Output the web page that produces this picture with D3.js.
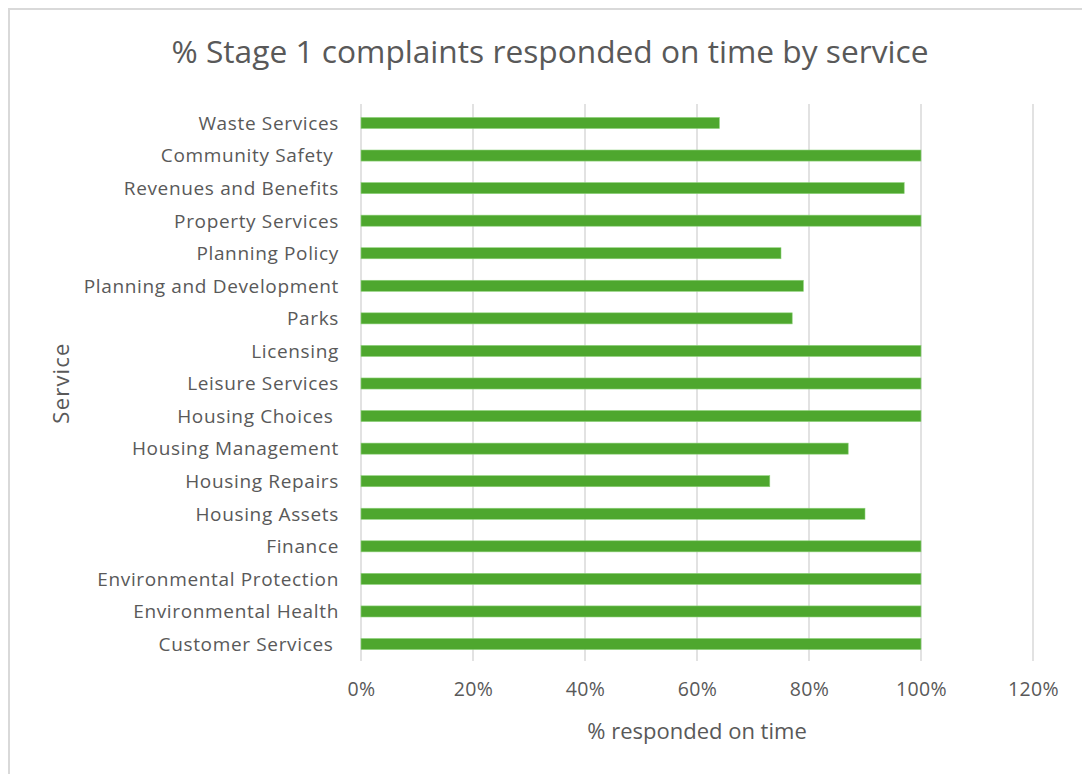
<!DOCTYPE html>
<html>
<head>
<meta charset="utf-8">
<script src="https://cdn.jsdelivr.net/npm/d3@7"></script>
<style>
  body { margin: 0; background: #fff; }
  text { font-family: "Open Sans", Lato, sans-serif; fill: #595959; }
  .cat text { white-space: pre; }
</style>
</head>
<body>
<div id="chart"></div>
<script>
// services, top to bottom as shown
var services = ["Waste Services", "Community Safety ", "Revenues and Benefits", "Property Services",
    "Planning Policy", "Planning and Development", "Parks", "Licensing", "Leisure Services",
    "Housing Choices ", "Housing Management", "Housing Repairs", "Housing Assets", "Finance",
    "Environmental Protection", "Environmental Health", "Customer Services "];
var onTime = [0.64, 1.00, 0.97, 1.00, 0.75, 0.79, 0.77, 1.00, 1.00, 1.00, 0.87, 0.73, 0.90, 1.00, 1.00, 1.00, 1.00];
var xTicks = [0, 0.2, 0.4, 0.6, 0.8, 1.0, 1.2];

var W = 1082, H = 774;
var font = "'Open Sans', Lato, sans-serif";
var svg = d3.select("#chart").append("svg").attr("width", W).attr("height", H);

// chart frame (top and left edges only visible)
svg.append("path")
    .attr("d", "M9,774 L9,9 L1082,9")
    .attr("fill", "none")
    .attr("stroke", "#d9d9d9")
    .attr("stroke-width", 2);

var scaleX = d3.scaleLinear().domain([0, 1.2]).range([361, 1033]);
var scaleY = d3.scaleBand().domain(services).range([106.7, 660.3]).paddingInner(0.66).paddingOuter(0.33);

// gridlines
svg.append("g").selectAll("line")
    .data(xTicks)
    .enter().append("line")
    .attr("x1", d => scaleX(d)).attr("x2", d => scaleX(d))
    .attr("y1", 104).attr("y2", 661)
    .attr("stroke", "#d9d9d9")
    .attr("stroke-width", 1.5);

// bars
svg.append("g").selectAll("rect")
    .data(services.map((s, i) => ({ name: s, value: onTime[i] })))
    .enter().append("rect")
    .attr("x", scaleX(0))
    .attr("y", d => scaleY(d.name))
    .attr("width", d => scaleX(d.value) - scaleX(0))
    .attr("height", scaleY.bandwidth())
    .attr("fill", "#4ea72e")
    .attr("stroke", "#8fd27c")
    .attr("stroke-width", 0.6);

// x axis labels
var xAxis = d3.axisBottom(scaleX).tickValues(xTicks).tickFormat(d3.format(".0%")).tickSize(0).tickPadding(0);
var gx = svg.append("g").attr("transform", "translate(0,682)").call(xAxis);
gx.select(".domain").remove();
gx.selectAll("text").attr("font-size", 19.5).attr("dy", "0.71em")
    .style("font-family", font).style("letter-spacing", "0.4px").attr("fill", "#595959");

// y axis labels
var yAxis = d3.axisLeft(scaleY).tickSize(0).tickPadding(0);
var gy = svg.append("g").attr("class", "cat").attr("transform", "translate(339,0)").call(yAxis);
gy.select(".domain").remove();
gy.selectAll("text").attr("font-size", 19).attr("dy", "0.36em")
    .style("font-family", font).style("letter-spacing", "0.65px").attr("fill", "#595959");

// title
svg.append("text")
    .attr("x", 550).attr("y", 63)
    .attr("text-anchor", "middle")
    .attr("font-size", 31.7)
    .text("% Stage 1 complaints responded on time by service");

// axis titles
svg.append("text")
    .attr("x", 697).attr("y", 739)
    .attr("text-anchor", "middle")
    .attr("font-size", 22)
    .text("% responded on time");

svg.append("text")
    .attr("transform", "translate(69,383) rotate(-90)")
    .attr("text-anchor", "middle")
    .attr("font-size", 22)
    .style("letter-spacing", "1.2px")
    .text("Service");
</script>
</body>
</html>
